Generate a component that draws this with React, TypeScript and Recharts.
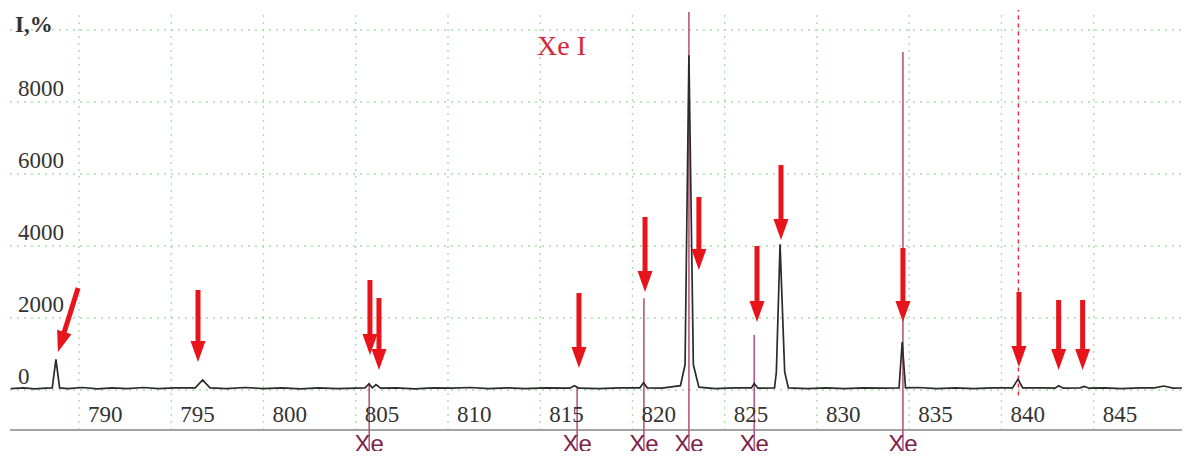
import React from "react";
import {
  LineChart,
  Line,
  XAxis,
  YAxis,
  CartesianGrid,
  ReferenceLine,
} from "recharts";

// measured spectrum: wavelength (nm) and intensity
const spectrumNm = [
  786.3, 787.0, 787.6, 788.2, 788.55, 788.75, 788.95, 789.4, 790.2, 791.0,
  791.8, 792.6, 793.5, 794.3, 795.2, 796.3, 796.7, 797.1, 798.0, 799.0,
  800.0, 801.0, 802.0, 803.0, 804.0, 805.0, 805.5, 805.72, 805.9, 806.1,
  806.35, 807.2, 808.2, 809.2, 810.2, 811.2, 812.2, 813.2, 814.2, 815.3,
  816.6, 816.85, 817.1, 818.2, 819.3, 820.4, 820.6, 820.8, 821.6, 822.6,
  822.85, 823.06, 823.3, 823.6, 824.5, 825.5, 826.45, 826.6, 826.8, 827.7,
  827.8, 828.0, 828.25, 828.45, 829.5, 830.5, 831.5, 832.5, 833.6, 834.45,
  834.62, 834.8, 835.5, 836.5, 837.5, 838.5, 839.5, 840.6, 840.9, 841.15,
  842.2, 842.9, 843.1, 843.35, 844.25, 844.5, 844.75, 845.6, 846.5, 847.5,
  848.3, 848.8, 849.3, 850.2,
];
const spectrumI = [
  40, 60, 30, 50, 60, 850, 60, 40, 70, 30,
  60, 40, 70, 40, 60, 60, 280, 60, 40, 70,
  40, 60, 30, 60, 40, 50, 60, 170, 60, 150,
  50, 60, 30, 60, 50, 70, 40, 60, 40, 60,
  50, 120, 50, 40, 60, 60, 200, 60, 50, 120,
  700, 9300, 700, 80, 40, 60, 60, 180, 50, 60,
  500, 4050, 500, 60, 40, 60, 40, 60, 50, 60,
  1330, 60, 70, 40, 60, 40, 60, 60, 300, 60,
  60, 50, 120, 50, 60, 100, 50, 60, 40, 60,
  60, 110, 50, 60,
];

// Xe I reference lines
const xeNm = [805.73, 817.0, 820.62, 823.06, 826.6, 834.66];
const xeI = [200, 100, 2550, 10500, 1530, 9390];

const xTicks = [790, 795, 800, 805, 810, 815, 820, 825, 830, 835, 840, 845];
const yTicks = [0, 2000, 4000, 6000, 8000, 10000];

// annotation arrows: tail -> tip, in data units
const arrowTailNm = [789.95, 796.45, 805.77, 806.26, 817.1, 820.68, 823.6, 826.75, 828.05, 834.66, 840.95, 843.1, 844.4];
const arrowTailI = [2833, 2778, 3056, 2556, 2694, 4806, 5361, 4000, 6250, 3944, 2722, 2500, 2500];
const arrowTipNm = [788.86, 796.45, 805.77, 806.26, 817.1, 820.68, 823.6, 826.75, 828.05, 834.66, 840.95, 843.1, 844.4];
const arrowTipI = [1056, 778, 972, 556, 611, 2722, 3333, 1889, 4167, 1889, 639, 556, 556];

const markedLineNm = 840.92;

const X_DOMAIN: [number, number] = [786.26, 850.22];
const Y_DOMAIN: [number, number] = [-1889, 10556];
const AXIS_LINE_I = -1111;

const data = spectrumNm.map((nm, i) => ({ nm, I: spectrumI[i] }));

const SERIF = "'Liberation Serif', 'Times New Roman', serif";
const SANS = "'Liberation Sans', Arial, sans-serif";
const GRID = "#a9d9a9";

function XTick(props: any) {
  const { x, payload } = props;
  return (
    <text x={x + 9} y={422} textAnchor="start" fontFamily={SERIF} fontSize={23} fill="#333">
      {payload.value}
    </text>
  );
}

function YTick(props: any) {
  const { y, payload } = props;
  const top = payload.value === 10000;
  return (
    <text
      x={top ? 15 : 18}
      y={top ? y + 2 : y - 6}
      textAnchor="start"
      fontFamily={SERIF}
      fontSize={23}
      fontWeight={top ? "bold" : "normal"}
      fill="#333"
    >
      {top ? "I,%" : payload.value}
    </text>
  );
}

function ArrowShape(props: any) {
  const { x1, y1, x2, y2 } = props;
  const dx = x2 - x1;
  const dy = y2 - y1;
  const len = Math.sqrt(dx * dx + dy * dy) || 1;
  const ux = dx / len;
  const uy = dy / len;
  const head = 21;
  const half = 7.5;
  const bx = x2 - ux * head;
  const by = y2 - uy * head;
  const px = -uy * half;
  const py = ux * half;
  return (
    <g>
      <line x1={x1} y1={y1} x2={bx + ux} y2={by + uy} stroke="#e8141c" strokeWidth={5} />
      <polygon points={`${x2},${y2} ${bx + px},${by + py} ${bx - px},${by - py}`} fill="#e8141c" />
    </g>
  );
}

function XeShape(props: any) {
  const { x1, y1, x2, y2 } = props;
  return (
    <g>
      <line x1={x1} y1={y1} x2={x2} y2={y2} stroke="#b5577f" strokeWidth={1.6} />
      <text x={x1} y={y1 - 3} textAnchor="middle" fontFamily={SANS} fontSize={24} fill="#7e1f4c">
        Xe
      </text>
    </g>
  );
}

export default function App() {
  return (
    <div style={{ margin: -8, position: "relative", width: 1190, height: 459, background: "#fff" }}>
      <LineChart width={1190} height={459} data={data} margin={{ top: 10, right: 0, bottom: 0, left: 9 }}>
        <CartesianGrid
          vertical={false}
          horizontalValues={yTicks}
          stroke={GRID}
          strokeDasharray="2 5"
          strokeWidth={1.3}
        />
        <XAxis
          dataKey="nm"
          type="number"
          domain={X_DOMAIN}
          ticks={xTicks}
          allowDataOverflow
          height={1}
          tickSize={0}
          tickMargin={0}
          axisLine={false}
          tickLine={false}
          tick={<XTick />}
        />
        <YAxis
          type="number"
          domain={Y_DOMAIN}
          ticks={yTicks}
          allowDataOverflow
          width={1}
          axisLine={false}
          tickLine={false}
          tick={<YTick />}
        />
        {xTicks.map((v) => (
          <ReferenceLine
            key={`g${v}`}
            segment={[{ x: v, y: AXIS_LINE_I }, { x: v, y: Y_DOMAIN[1] }]}
            stroke={GRID}
            strokeDasharray="2 5"
            strokeWidth={1.3}
            ifOverflow="visible"
          />
        ))}
        <ReferenceLine y={AXIS_LINE_I} stroke="#a3a3a3" strokeWidth={2} ifOverflow="visible" />
        {xeNm.map((nm, i) => (
          <ReferenceLine
            key={`xe${i}`}
            segment={[{ x: nm, y: -1800 }, { x: nm, y: xeI[i] }]}
            shape={<XeShape />}
            ifOverflow="visible"
          />
        ))}
        <ReferenceLine
          segment={[{ x: markedLineNm, y: -150 }, { x: markedLineNm, y: Y_DOMAIN[1] }]}
          stroke="#e0303c"
          strokeDasharray="4 4"
          strokeWidth={1.5}
          ifOverflow="visible"
        />
        <Line
          type="linear"
          dataKey="I"
          stroke="#2b2b2b"
          strokeWidth={1.7}
          dot={false}
          isAnimationActive={false}
        />
        {arrowTipNm.map((nm, i) => (
          <ReferenceLine
            key={`a${i}`}
            segment={[{ x: arrowTailNm[i], y: arrowTailI[i] }, { x: nm, y: arrowTipI[i] }]}
            shape={<ArrowShape />}
            ifOverflow="visible"
          />
        ))}
      </LineChart>
      <svg width={1190} height={459} style={{ position: "absolute", left: 0, top: 0, pointerEvents: "none" }}>
        <text x={537} y={55} fontFamily={SERIF} fontSize={28} fill="#d9263a">
          Xe I
        </text>
      </svg>
    </div>
  );
}
